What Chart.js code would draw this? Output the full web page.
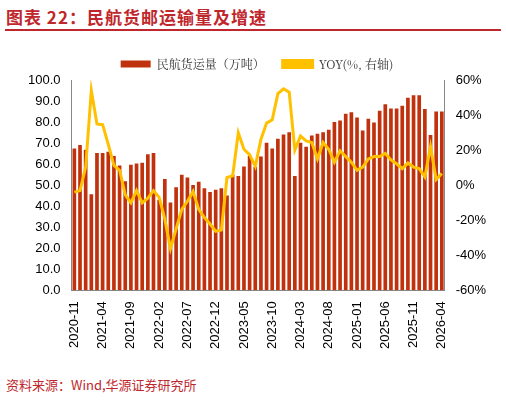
<!DOCTYPE html>
<html><head><meta charset="utf-8">
<script src="https://cdn.jsdelivr.net/npm/chart.js@4"></script>
<style>
body{margin:0;width:506px;height:404px;background:#fff;font-family:"Noto Sans CJK SC",sans-serif;position:relative;overflow:hidden}
#t{position:absolute;left:6px;top:4px;font-size:17px;font-weight:bold;color:#c0272d;letter-spacing:1px}
#rule{position:absolute;left:5px;top:29px;width:496px;height:2px;background:#c0272d}
#s{position:absolute;left:6px;top:375px;font-size:13px;color:#c0272d}
#w{position:absolute;left:0;top:40px;width:506px;height:312px}
</style></head><body>
<div id="t">图表 22：民航货邮运输量及增速</div>
<div id="rule"></div>
<div id="w"><canvas id="c"></canvas></div>
<div id="s">资料来源：Wind,华源证券研究所</div>
<script>
const labels=[];
(function(){let y=2020,m=11;for(let i=0;i<66;i++){labels.push(y+'-'+String(m).padStart(2,'0'));m++;if(m>12){m=1;y++;}}})();
const cargo=[67.4,69.1,66.8,45.7,65.3,65.3,65.9,63.9,59.4,51.9,59.7,60.3,60.6,64.7,65.3,43,52.9,41.7,49.0,55.0,53.6,50.1,51.6,48.5,46.7,47.8,48.5,45.1,55.0,54.4,58.9,64.0,58.6,63.6,70.2,67.4,72.1,74.1,75.2,54.4,70.2,68.2,73.6,74.4,75.2,76.3,80.0,80.8,83.9,84.7,82.2,76,81.6,79.8,85.4,88.5,86.5,86.5,87.8,91.6,92.7,92.7,86.2,73.8,85,85];
const yoy=[-4.0,-3.1,10.3,54.0,34.9,34.5,23.3,11.3,8.5,-5.5,-10.1,-3.1,-10.1,-7.4,-3.1,-7.0,-19.4,-36.2,-25,-13.8,-9.2,-3.6,-13.8,-18.5,-22.2,-26.3,-25.6,4.4,5.3,29.9,20.5,17.4,10.7,26.1,35.4,37.3,52.2,55.0,53.1,20.0,28.0,25.2,24.3,15.0,24.3,20.5,13.1,19.6,16.3,13.1,8.5,10.3,15.0,16.3,16.3,18.1,14.4,12.2,9.4,12.6,10.3,9.4,4.7,22.0,3.2,6.6];
const tickFont={family:'"Liberation Sans", Arial',size:13};
new Chart(document.getElementById('c'),{
 data:{labels,datasets:[
  {type:'line',label:'YOY(%, 右轴)',data:yoy,yAxisID:'y1',borderColor:'#ffc000',backgroundColor:'#ffc000',borderWidth:3,pointRadius:0,tension:0,order:0},
  {type:'bar',label:'民航货运量（万吨）',data:cargo,yAxisID:'y',backgroundColor:'#c0310e',categoryPercentage:1,barPercentage:0.65,order:1}
 ]},
 options:{responsive:true,maintainAspectRatio:false,animation:false,
  layout:{padding:{left:25,right:17,top:0,bottom:0}},
  plugins:{legend:{position:'top',reverse:true,labels:{boxWidth:30,boxHeight:7,font:{family:'"Noto Serif CJK SC","Noto Sans CJK SC"',size:12},color:'#333',padding:18}},tooltip:{enabled:false}},
  scales:{
   x:{grid:{display:false},border:{color:'#888'},ticks:{autoSkip:false,maxRotation:90,minRotation:90,font:tickFont,color:'#000',callback:(v,i)=>i%5===0?labels[i]:''}},
   y:{min:0,max:100,grid:{display:false},border:{color:'#888'},ticks:{stepSize:10,font:tickFont,color:'#000',callback:v=>v.toFixed(1)}},
   y1:{position:'right',min:-60,max:60,grid:{display:false},border:{color:'#888'},ticks:{stepSize:20,font:tickFont,color:'#000',callback:v=>v+'%'}}
  }}
});
</script></body></html>
